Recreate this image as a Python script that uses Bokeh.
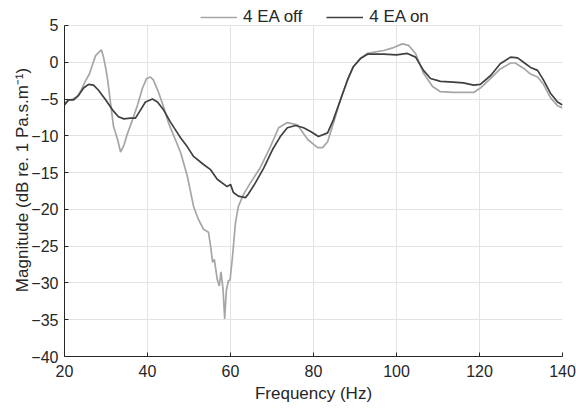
from bokeh.plotting import figure
from bokeh.models import Range1d, FixedTicker, Legend, LegendItem
from bokeh.embed import file_html
from bokeh.resources import INLINE

# Frequency response, 4 EA off
freq_off = [20, 21, 22, 23, 24, 25, 26, 26.7, 27.5, 28.2, 28.9, 29.4, 30, 30.4,
            31.1, 31.8, 32.8, 33.5, 34.3, 35.1, 36.4, 37.6, 38.8, 39.8, 40.7,
            41.4, 42.6, 43.9, 45.1, 46.7, 48, 49.6, 51.1, 52.3, 53.5, 54.7,
            55.2, 55.7, 56.1, 56.8, 57.3, 57.7, 58.2, 58.6, 59.0, 59.5, 59.9,
            60.5, 61.2, 61.9, 63.1, 64.8, 67.2, 69.6, 71.6, 73.7, 76.1, 78.6,
            81.0, 82.2, 83.4, 84.8, 86.5, 88.2, 89.6, 91.3, 93.0, 96.9, 99.3,
            101.4, 102.9, 104.6, 106.5, 108.7, 110.6, 113.7, 116.1, 118.6,
            120.2, 122.7, 125.0, 127.5, 128.6, 130.6, 132.3, 134.0, 135.4,
            137.1, 138.8, 140]
mag_off = [-5.5, -5.2, -5.0, -4.7, -3.8, -2.6, -1.6, -0.4, 0.9, 1.3, 1.7, 0.7,
           -1.0, -2.4, -5.6, -8.7, -10.5, -12.2, -11.3, -9.8, -7.8, -5.8, -3.5,
           -2.2, -2.0, -2.4, -4.0, -6.1, -8.3, -10.5, -12.3, -15.5, -19.6,
           -21.4, -22.7, -23.1, -25.0, -27.2, -26.8, -29.5, -30.4, -28.5,
           -30.8, -34.9, -31.0, -29.7, -29.6, -26.3, -21.8, -19.6, -18.0,
           -16.4, -14.3, -11.5, -8.9, -8.2, -8.5, -10.5, -11.6, -11.6, -10.8,
           -8.3, -5.1, -2.4, -0.6, 0.5, 1.2, 1.6, 2.0, 2.5, 2.3, 1.2, -1.5,
           -3.3, -4.0, -4.1, -4.1, -4.1, -3.5, -2.2, -0.9, -0.1, -0.1, -0.8,
           -1.6, -2.0, -3.0, -4.8, -5.9, -6.2]

# Frequency response, 4 EA on
freq_on = [20, 21, 22.2, 23.4, 24.6, 25.8, 27, 28.2, 29.9, 31.6, 33, 34.3,
           35.9, 37.1, 38.3, 39.5, 41.2, 42.4, 43.9, 45.5, 47.2, 48, 49.6,
           51.1, 53.5, 55.2, 56.8, 59.2, 60.0, 60.7, 61.9, 63.6, 64.3, 66.0,
           68.0, 70.1, 72.0, 73.7, 75.7, 77.6, 79.3, 81.2, 83.4, 84.8, 86.5,
           88.2, 89.6, 91.3, 93.0, 96.9, 100, 102.6, 104.6, 106.5, 108.2,
           110.6, 113.7, 116.1, 118.6, 120.2, 122.7, 125.0, 127.5, 129.2,
           130.6, 132.3, 134.0, 135.4, 137.1, 138.8, 140]
mag_on = [-5.8, -5.1, -5.1, -4.5, -3.5, -3.0, -3.1, -3.8, -5.1, -6.5, -7.4,
          -7.7, -7.6, -7.6, -6.5, -5.4, -5.0, -5.4, -6.5, -8.1, -9.6, -10.3,
          -11.5, -12.8, -13.9, -14.6, -15.9, -16.9, -16.6, -17.7, -18.2,
          -18.4, -17.9, -16.4, -14.4, -11.9, -10.1, -8.9, -8.6, -8.9, -9.4,
          -10.1, -9.6, -7.8, -5.1, -2.4, -0.6, 0.5, 1.1, 1.1, 1.0, 1.2, 0.7,
          -1.1, -2.2, -2.6, -2.7, -2.8, -3.1, -3.0, -1.8, -0.2, 0.7, 0.6, 0.0,
          -0.7, -1.1, -2.4, -4.2, -5.4, -5.8]

x_ticks = [20, 40, 60, 80, 100, 120, 140]
y_ticks = [-40, -35, -30, -25, -20, -15, -10, -5, 0, 5]
y_min, y_max = -40, 5

FONT = "Liberation Sans"
AXIS_COLOR = "#262626"

# The frame reaches a little above y_max so the legend strip sits inside it;
# axis and grid lines are bounded to the data range.
p = figure(width=576, height=410, output_backend="svg", toolbar_location=None,
           x_range=Range1d(20, 140), y_range=Range1d(y_min, 7.99),
           min_border_left=64, min_border_right=14, min_border_top=3,
           min_border_bottom=54)
p.outline_line_color = None
p.background_fill_color = "white"
p.border_fill_color = "white"

r_off = p.line(freq_off, mag_off, line_color="#a6a6a6", line_width=1.7)
r_on = p.line(freq_on, mag_on, line_color="#404040", line_width=1.7)

for ax in (p.xaxis[0], p.yaxis[0]):
    ax.axis_line_color = AXIS_COLOR
    ax.major_tick_line_color = AXIS_COLOR
    ax.major_tick_in = 4
    ax.major_tick_out = 0
    ax.minor_tick_line_color = None
    ax.major_label_text_font = FONT
    ax.major_label_text_font_size = "16px"
    ax.major_label_text_color = AXIS_COLOR
    ax.axis_label_text_font = FONT
    ax.axis_label_text_font_size = "17px"
    ax.axis_label_text_font_style = "normal"
    ax.axis_label_text_color = AXIS_COLOR

p.yaxis.bounds = (y_min, y_max)
p.xaxis.ticker = FixedTicker(ticks=x_ticks)
p.yaxis.ticker = FixedTicker(ticks=y_ticks)
p.xaxis.axis_label = "Frequency (Hz)"
p.yaxis.axis_label = "Magnitude (dB re. 1 Pa.s.m\u207b\u00b9)"
p.xaxis.major_label_standoff = 8
p.yaxis.major_label_standoff = 6
p.xaxis.axis_label_standoff = 4
p.yaxis.axis_label_standoff = -4

p.xgrid.ticker = FixedTicker(ticks=x_ticks)
p.ygrid.ticker = FixedTicker(ticks=y_ticks)
p.xgrid.grid_line_color = "#e3e3e3"
p.ygrid.grid_line_color = "#e3e3e3"
p.xgrid.cross_bounds = (y_min, y_max)

legend = Legend(items=[LegendItem(label="4 EA off", renderers=[r_off]),
                       LegendItem(label="4 EA on", renderers=[r_on])],
                orientation="horizontal", location=(136, 329),
                glyph_width=37, glyph_height=20, label_standoff=6, spacing=24,
                padding=0, margin=0, border_line_color=None,
                background_fill_alpha=0, label_text_font=FONT,
                label_text_font_size="17px", label_text_color=AXIS_COLOR)
p.add_layout(legend, "center")

open("out.html", "w").write(file_html(p, INLINE))
